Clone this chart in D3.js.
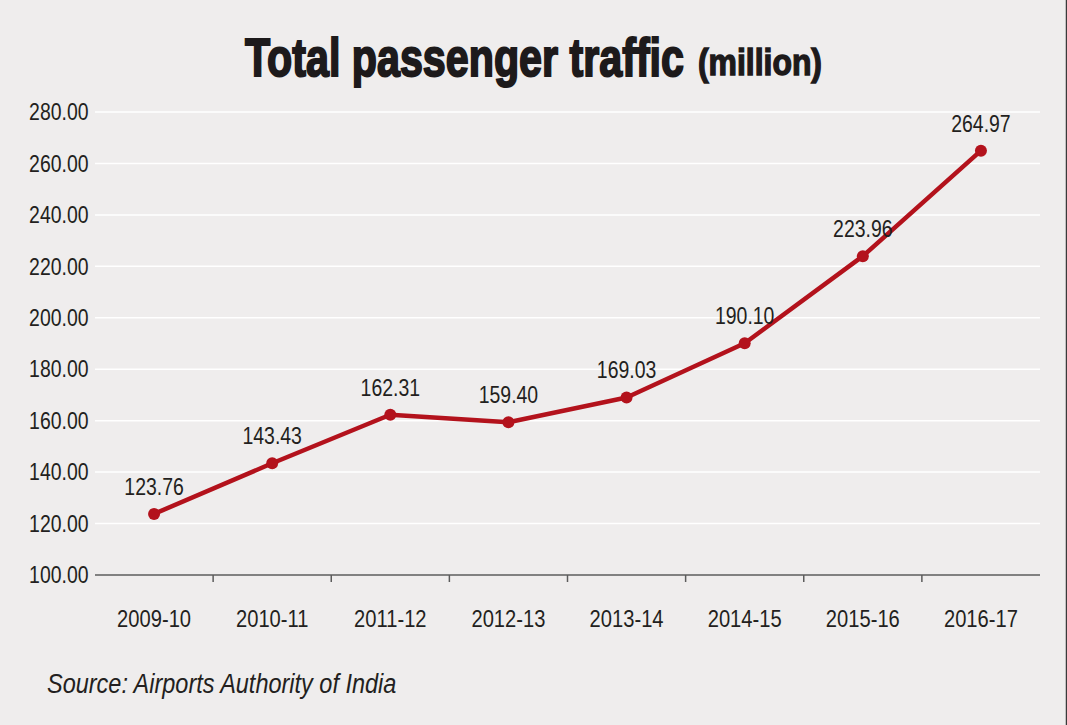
<!DOCTYPE html>
<html>
<head>
<meta charset="utf-8">
<script src="https://cdn.jsdelivr.net/npm/d3@7"></script>
<style>
  html, body { margin: 0; padding: 0; background: #efeded; }
  #chart { width: 1067px; height: 725px; }
</style>
</head>
<body>
<div id="chart"></div>
<script>
const years = ["2009-10", "2010-11", "2011-12", "2012-13", "2013-14", "2014-15", "2015-16", "2016-17"];
const traffic = [123.76, 143.43, 162.31, 159.40, 169.03, 190.10, 223.96, 264.97];
const yTicks = [100, 120, 140, 160, 180, 200, 220, 240, 260, 280];

const width = 1067;
const height = 725;
const margin = { top: 112, right: 27, bottom: 150, left: 95 };
const innerWidth = width - margin.left - margin.right;
const innerHeight = height - margin.top - margin.bottom;
const fontFamily = "'Liberation Sans', Arial, sans-serif";
const lineColor = "#b3121c";
const textColor = "#231f20";
const squeeze = 0.81;

// no narrow face installed, so squeeze each label horizontally round its anchor
const condense = (selection, k) => selection.each(function () {
  const t = d3.select(this);
  const tx = +t.attr("x") || 0;
  const ty = +t.attr("y") || 0;
  t.attr("x", 0).attr("y", 0)
    .attr("transform", `translate(${tx}, ${ty}) scale(${k}, 1)`);
});

const svg = d3.select("#chart")
  .append("svg")
  .attr("width", width)
  .attr("height", height);

svg.append("rect")
  .attr("width", width)
  .attr("height", height)
  .attr("fill", "#efeded");

svg.append("line")
  .attr("x1", width - 0.5).attr("x2", width - 0.5)
  .attr("y1", 0).attr("y2", height)
  .attr("stroke", "#3a3a3a")
  .attr("stroke-width", 1.5);

// title
svg.append("text")
  .attr("x", 245)
  .attr("y", 76)
  .attr("font-family", fontFamily)
  .attr("font-weight", 700)
  .attr("font-size", 54)
  .attr("fill", "#1d1a1b")
  .attr("stroke", "#1d1a1b")
  .attr("stroke-width", 2)
  .attr("textLength", 439)
  .attr("lengthAdjust", "spacingAndGlyphs")
  .text("Total passenger traffic");

svg.append("text")
  .attr("x", 698)
  .attr("y", 75)
  .attr("font-family", fontFamily)
  .attr("font-weight", 700)
  .attr("font-size", 36)
  .attr("fill", "#1d1a1b")
  .attr("stroke", "#1d1a1b")
  .attr("stroke-width", 1.4)
  .attr("textLength", 124)
  .attr("lengthAdjust", "spacingAndGlyphs")
  .text("(million)");

const x = d3.scaleBand()
  .domain(years)
  .range([0, innerWidth]);

const y = d3.scaleLinear()
  .domain([100, 280])
  .range([innerHeight, 0]);

const chart = svg.append("g")
  .attr("transform", `translate(${margin.left}, ${margin.top})`);

// gridlines
chart.append("g")
  .selectAll("line")
  .data(yTicks.filter(d => d > 100))
  .join("line")
  .attr("x1", 0)
  .attr("x2", innerWidth)
  .attr("y1", d => y(d))
  .attr("y2", d => y(d))
  .attr("stroke", "#ffffff")
  .attr("stroke-width", 1.5);

// y axis labels
chart.append("g")
  .call(d3.axisLeft(y).tickValues(yTicks).tickFormat(d3.format(".2f")).tickSize(0).tickPadding(8))
  .call(g => g.select(".domain").remove())
  .selectAll("text")
  .attr("font-family", fontFamily)
  .attr("font-size", 24)
  .attr("fill", textColor)
  .attr("transform", `scale(${squeeze}, 1)`);

// x axis
const boundaries = years.slice(1).map(d => x(d));
const xAxis = chart.append("g")
  .attr("transform", `translate(0, ${innerHeight})`);

xAxis.append("line")
  .attr("x1", 0)
  .attr("x2", innerWidth)
  .attr("stroke", "#5c5c5c")
  .attr("stroke-width", 1.5);

xAxis.selectAll("line.tick-mark")
  .data(boundaries)
  .join("line")
  .attr("class", "tick-mark")
  .attr("x1", d => d)
  .attr("x2", d => d)
  .attr("y1", 0)
  .attr("y2", 7)
  .attr("stroke", "#5c5c5c")
  .attr("stroke-width", 1.5);

xAxis.selectAll("text")
  .data(years)
  .join("text")
  .attr("x", d => x(d) + x.bandwidth() / 2)
  .attr("y", 52)
  .attr("text-anchor", "middle")
  .attr("font-family", fontFamily)
  .attr("font-size", 24)
  .attr("fill", textColor)
  .text(d => d)
  .call(condense, 0.84);

// line
const points = years.map((d, i) => ({ year: d, value: traffic[i] }));

chart.append("path")
  .datum(points)
  .attr("fill", "none")
  .attr("stroke", lineColor)
  .attr("stroke-width", 4.5)
  .attr("stroke-linejoin", "round")
  .attr("d", d3.line()
    .x(d => x(d.year) + x.bandwidth() / 2)
    .y(d => y(d.value)));

chart.selectAll("circle")
  .data(points)
  .join("circle")
  .attr("cx", d => x(d.year) + x.bandwidth() / 2)
  .attr("cy", d => y(d.value))
  .attr("r", 6)
  .attr("fill", lineColor);

chart.selectAll("text.value-label")
  .data(points)
  .join("text")
  .attr("class", "value-label")
  .attr("x", d => x(d.year) + x.bandwidth() / 2)
  .attr("y", d => y(d.value) - 19)
  .attr("text-anchor", "middle")
  .attr("font-family", fontFamily)
  .attr("font-size", 24)
  .attr("fill", textColor)
  .text(d => d3.format(".2f")(d.value))
  .call(condense, squeeze);

// source
svg.append("text")
  .attr("x", 47)
  .attr("y", 693)
  .attr("font-family", fontFamily)
  .attr("font-style", "italic")
  .attr("font-size", 27)
  .attr("fill", textColor)
  .text("Source: Airports Authority of India")
  .call(condense, 0.87);
</script>
</body>
</html>
